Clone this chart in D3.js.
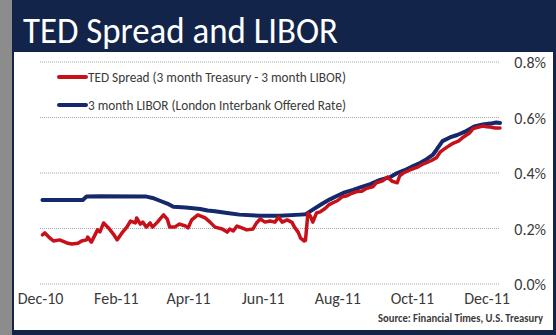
<!DOCTYPE html>
<html>
<head>
<meta charset="utf-8">
<script src="https://cdn.jsdelivr.net/npm/d3@7"></script>
<style>
  html, body { margin: 0; padding: 0; background: #ffffff; }
  svg { display: block; }
</style>
</head>
<body>
<svg id="chart" width="556" height="335"></svg>
<script>
// ---------- DATA ----------
const title = "TED Spread and LIBOR";
const source = "Source:  Financial Times, U.S. Treasury";
const seriesNames = ["TED Spread (3 month Treasury - 3 month LIBOR)", "3 month LIBOR (London Interbank Offered Rate)"];

const tedDates = ["2010-12-03","2010-12-05","2010-12-09","2010-12-12","2010-12-17","2010-12-23","2010-12-27",
  "2011-01-01","2011-01-04","2011-01-08","2011-01-09","2011-01-12","2011-01-17","2011-01-19","2011-01-22","2011-01-26","2011-01-30",
  "2011-02-02","2011-02-06","2011-02-10","2011-02-13","2011-02-17","2011-02-18","2011-02-21","2011-02-23","2011-02-26",
  "2011-03-01","2011-03-03","2011-03-07","2011-03-09","2011-03-12","2011-03-15","2011-03-17","2011-03-21","2011-03-25","2011-03-30",
  "2011-04-01","2011-04-04","2011-04-09","2011-04-15","2011-04-19","2011-04-23","2011-04-29",
  "2011-05-03","2011-05-05","2011-05-08","2011-05-11","2011-05-15","2011-05-19","2011-05-24","2011-05-27","2011-05-30",
  "2011-06-03","2011-06-07","2011-06-11","2011-06-14","2011-06-17","2011-06-21","2011-06-25","2011-06-27","2011-06-30",
  "2011-07-02","2011-07-05","2011-07-06","2011-07-08","2011-07-10","2011-07-12","2011-07-15","2011-07-18","2011-07-22","2011-07-25","2011-07-28",
  "2011-08-01","2011-08-05","2011-08-09","2011-08-13","2011-08-17","2011-08-21","2011-08-25","2011-08-30",
  "2011-09-02","2011-09-07","2011-09-11","2011-09-15","2011-09-19","2011-09-21","2011-09-24","2011-09-29",
  "2011-10-05","2011-10-09","2011-10-13","2011-10-17","2011-10-21","2011-10-24","2011-10-27","2011-10-30",
  "2011-11-01","2011-11-04","2011-11-08","2011-11-11","2011-11-14","2011-11-17","2011-11-20","2011-11-24","2011-11-28",
  "2011-12-01","2011-12-04","2011-12-08","2011-12-12"];
const tedValues = [0.177,0.184,0.166,0.155,0.159,0.148,0.144,
  0.147,0.155,0.159,0.169,0.151,0.195,0.188,0.220,0.202,0.180,
  0.159,0.184,0.205,0.227,0.220,0.238,0.216,0.223,0.205,
  0.220,0.205,0.223,0.234,0.249,0.234,0.205,0.205,0.216,0.209,
  0.202,0.231,0.249,0.238,0.223,0.205,0.198,
  0.187,0.198,0.191,0.209,0.202,0.195,0.198,0.220,0.234,
  0.223,0.227,0.223,0.241,0.223,0.231,0.222,0.205,0.187,
  0.165,0.155,0.157,0.256,0.245,0.223,0.256,0.260,0.272,0.285,0.292,
  0.300,0.314,0.318,0.327,0.333,0.334,0.345,0.350,
  0.365,0.372,0.385,0.370,0.365,0.390,0.400,0.410,
  0.420,0.430,0.437,0.445,0.455,0.475,0.485,0.494,
  0.500,0.508,0.515,0.526,0.535,0.544,0.560,0.565,0.569,
  0.567,0.566,0.562,0.562];

const liborDates = ["2010-12-03","2011-01-05","2011-01-08","2011-01-19","2011-02-26","2011-03-03","2011-03-09","2011-03-15","2011-03-20","2011-03-30",
  "2011-04-11","2011-04-17","2011-04-23","2011-05-03","2011-05-13","2011-05-30","2011-06-15","2011-07-02","2011-07-06","2011-07-12","2011-07-20","2011-07-26",
  "2011-08-01","2011-08-07","2011-08-14","2011-08-21","2011-08-28","2011-09-05","2011-09-13","2011-09-19","2011-09-25",
  "2011-10-02","2011-10-08","2011-10-13","2011-10-18","2011-10-21","2011-10-26",
  "2011-11-01","2011-11-07","2011-11-13","2011-11-17","2011-11-21","2011-11-28","2011-12-04","2011-12-09","2011-12-12"];
const liborValues = [0.303,0.303,0.315,0.316,0.315,0.310,0.300,0.290,0.278,0.276,
  0.270,0.265,0.262,0.256,0.250,0.246,0.246,0.250,0.251,0.268,0.290,0.305,
  0.318,0.330,0.339,0.350,0.360,0.375,0.385,0.400,0.410,
  0.425,0.437,0.450,0.465,0.483,0.515,
  0.528,0.537,0.548,0.558,0.568,0.575,0.578,0.582,0.580];

const xTickDates = ["2010-12-01","2011-02-01","2011-04-01","2011-06-01","2011-08-01","2011-10-01","2011-12-01"];
const xTickLabels = ["Dec-10","Feb-11","Apr-11","Jun-11","Aug-11","Oct-11","Dec-11"];
const yTicks = [0, 0.2, 0.4, 0.6, 0.8];
const yTickLabels = ["0.0%","0.2%","0.4%","0.6%","0.8%"];

// ---------- DRAW ----------
const parse = d3.timeParse("%Y-%m-%d");
const svg = d3.select("#chart");
const W = 556, H = 335;
const navy = "#13244a";
const red = "#c8101a";
const blue = "#13296b";
const textCol = "#3a3a3a";
const font = "Carlito, Calibri, Lato, 'Open Sans', sans-serif";

// background frame
svg.append("rect").attr("x", 0).attr("y", 0).attr("width", W).attr("height", H).attr("fill", navy);
svg.append("rect").attr("x", 0).attr("y", 0).attr("width", 12).attr("height", H).attr("fill", "#8c8c8c");
svg.append("rect").attr("x", 14).attr("y", 52).attr("width", 539).attr("height", 278).attr("fill", "#ffffff");

// title
const t = svg.append("text").attr("x", 23).attr("y", 43)
  .attr("fill", "#ffffff").attr("font-family", font).attr("font-size", 36)
  .text(title);
const tw = t.node().getComputedTextLength();
if (Math.abs(tw - 315) > 4) t.attr("textLength", 315).attr("lengthAdjust", "spacingAndGlyphs");

// scales
const x = d3.scaleTime().domain([parse("2010-12-01"), parse("2011-12-12")]).range([40, 500]);
const y = d3.scaleLinear().domain([0, 0.8]).range([284, 62]);

// gridlines
svg.append("g").selectAll("line").data(yTicks).join("line")
  .attr("x1", 40).attr("x2", 500)
  .attr("y1", d => y(d)).attr("y2", d => y(d))
  .attr("stroke", "#a6a6a6").attr("stroke-width", 1).attr("stroke-dasharray", "1,1");

// y axis labels (right)
const yAxis = d3.axisRight(y).tickValues(yTicks).tickSize(0).tickPadding(0)
  .tickFormat((d, i) => yTickLabels[i]);
const yg = svg.append("g").attr("transform", "translate(546,0)").call(yAxis);
yg.select(".domain").remove();
yg.selectAll("text").attr("text-anchor", "end").attr("font-family", font)
  .attr("font-size", 16).attr("fill", textCol).attr("dy", "0.35em");

// x axis labels
const xAxis = d3.axisBottom(x).tickValues(xTickDates.map(parse)).tickSize(0).tickPadding(0)
  .tickFormat((d, i) => xTickLabels[i]);
const xg = svg.append("g").attr("transform", "translate(0,293)").call(xAxis);
xg.select(".domain").remove();
xg.selectAll("text").attr("font-family", font).attr("font-size", 16).attr("fill", textCol).attr("dy", "0.71em");

// lines
const tedData = tedDates.map((d, i) => ({ date: parse(d), value: tedValues[i] }));
const liborData = liborDates.map((d, i) => ({ date: parse(d), value: liborValues[i] }));
const line = d3.line().x(d => x(d.date)).y(d => y(d.value));

svg.append("path").datum(liborData).attr("d", line)
  .attr("fill", "none").attr("stroke", blue).attr("stroke-width", 4)
  .attr("stroke-linejoin", "round").attr("stroke-linecap", "round");
svg.append("path").datum(tedData).attr("d", line)
  .attr("fill", "none").attr("stroke", red).attr("stroke-width", 3.5)
  .attr("stroke-linejoin", "round").attr("stroke-linecap", "round");

// legend
const legend = svg.append("g");
const legY = [77, 105];
const legCol = [red, blue];
seriesNames.forEach((name, i) => {
  legend.append("line").attr("x1", 59).attr("x2", 86).attr("y1", legY[i]).attr("y2", legY[i])
    .attr("stroke", legCol[i]).attr("stroke-width", 4).attr("stroke-linecap", "round");
  const lt = legend.append("text").attr("x", 88).attr("y", legY[i]).attr("dy", "0.35em")
    .attr("font-family", font).attr("font-size", 14).attr("fill", textCol).text(name);
  const w = lt.node().getComputedTextLength();
  if (Math.abs(w - 258) > 3) lt.attr("textLength", 258).attr("lengthAdjust", "spacingAndGlyphs");
});

// source
const st = svg.append("text").attr("x", 543).attr("y", 322).attr("text-anchor", "end")
  .attr("font-family", font).attr("font-size", 11).attr("font-weight", "bold").attr("fill", "#3a3a3a")
  .text(source);
const sw = st.node().getComputedTextLength();
if (Math.abs(sw - 165) > 3) st.attr("textLength", 165).attr("lengthAdjust", "spacingAndGlyphs");
</script>
</body>
</html>
